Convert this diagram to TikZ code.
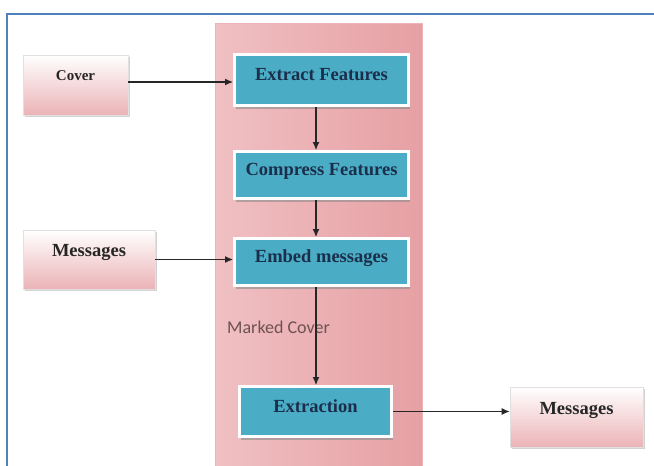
\documentclass[tikz,border=0pt]{standalone}
\usepackage{fontspec}
\setmainfont{Liberation Serif}
\newfontfamily\calib{Carlito}
\usetikzlibrary{arrows.meta,shadows,calc}
\definecolor{frameblue}{HTML}{4F81BD}
\definecolor{boxblue}{HTML}{4BACC6}
\definecolor{navy}{HTML}{1B2F4B}
\definecolor{pinkdark}{HTML}{E6A0A4}
\definecolor{pinkmid}{HTML}{F0C0C3}
\definecolor{pinklight}{HTML}{F8DEDF}
\definecolor{sidebot}{HTML}{EBB3B6}
\definecolor{labelbrown}{HTML}{6E5252}
\tikzset{
  bluebox/.style={fill=boxblue, draw=white, line width=3pt, font=\bfseries\fontsize{18.5}{19}\selectfont, text=navy,
    text height=0.7em, text depth=0.6em,
    drop shadow={shadow xshift=1.5pt, shadow yshift=-3pt, fill=black!45, opacity=0.6}},
  sidebox/.style={top color=white, bottom color=sidebot, draw=black!12, line width=0.6pt,
    font=\bfseries, text=black!85, text height=0.7em,
    drop shadow={shadow xshift=1.5pt, shadow yshift=-2pt, fill=black!35, opacity=0.5}},
  flow/.style={draw=black!85, line width=1.1pt, -{Latex[length=8pt,width=7pt]}}
}
\begin{document}
\begin{tikzpicture}[x=1pt,y=-1pt]
\useasboundingbox (0,0) rectangle (654,466);
\fill[white] (0,0) rectangle (654,466);
% frame
\draw[frameblue, line width=2pt] (7,470) -- (7,14) -- (660,14);
% pink column
\shade[left color=pinkmid, middle color=pinklight, right color=pinkdark]
  (215,23) rectangle (422,470);
\draw[pinkdark!80, line width=0.6pt] (215,470) -- (215,23) -- (422,23) -- (422,470);
% side boxes
\node[sidebox, minimum width=105pt, minimum height=60pt, text depth=1.64em,
  font=\bfseries\fontsize{15}{16}\selectfont] (cover) at (75.5,85) {Cover};
\node[sidebox, minimum width=132pt, minimum height=59pt, text depth=1.4em,
  font=\bfseries\fontsize{18.5}{19}\selectfont] (msgin) at (89,259.5) {Messages};
\node[sidebox, minimum width=133pt, minimum height=60pt, text depth=1.22em,
  font=\bfseries\fontsize{18.5}{19}\selectfont] (msgout) at (576.5,417) {Messages};
% blue boxes
\node[bluebox, minimum width=174pt, minimum height=51pt] (extract) at (321.5,80) {Extract Features};
\node[bluebox, minimum width=174pt, minimum height=47pt] (compress) at (321.5,175) {Compress Features};
\node[bluebox, minimum width=174pt, minimum height=47pt] (embed) at (321.5,262) {Embed messages};
\node[bluebox, minimum width=152pt, minimum height=50pt] (extraction) at (315.5,411.5) {Extraction};
% label
\node[font=\calib\fontsize{18}{19}\selectfont, text=labelbrown] (marked) at (278.5,327) {Marked Cover};
% connectors
\draw[flow] ([yshift=3pt]cover.east) -- ([yshift=3pt]cover.east -| extract.west);
\draw[flow] (msgin.east) -- (msgin.east -| embed.west);
\draw[flow] ([xshift=-5.5pt]extract.south) -- ([xshift=-5.5pt]compress.north);
\draw[flow] ([xshift=-5.5pt]compress.south) -- ([xshift=-5.5pt]embed.north);
\draw[flow] ([xshift=-5.5pt]embed.south) -- ([xshift=-5.5pt]embed.south |- extraction.north);
\draw[flow] (extraction.east) -- (extraction.east -| msgout.west);
\end{tikzpicture}
\end{document}
